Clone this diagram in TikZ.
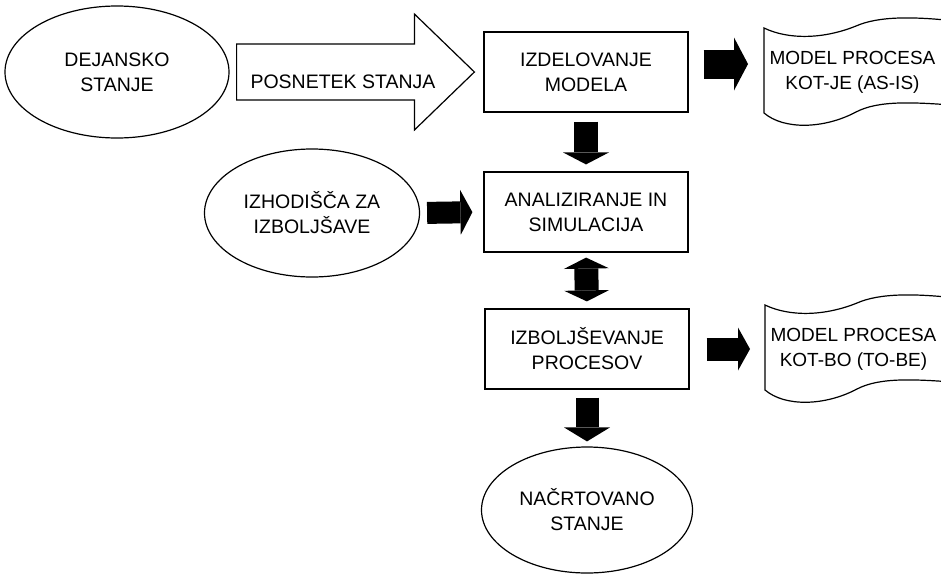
\documentclass[tikz,border=0pt]{standalone}
\usepackage{fontspec}
\setmainfont{Liberation Sans}
\usetikzlibrary{shapes.geometric,arrows.meta,calc}
\newcommand{\tape}[1]{%
\begin{scope}[shift={(#1.west)}]
\draw (0,-44) .. controls (25,-32) and (60,-33) .. (92,-46) .. controls (115,-56) and (150,-56) .. (200,-50)
  -- (200,34) .. controls (150,30) and (115,28) .. (92,40) .. controls (60,57) and (20,58) .. (0,41) -- cycle;
\end{scope}}
\begin{document}
\begin{tikzpicture}[x=1pt,y=-1pt,line width=1.2pt,font=\fontsize{19.5}{25}\selectfont,
  oval/.style={draw,ellipse,align=center,inner sep=2pt},
  box/.style={draw,rectangle,align=center,minimum width=204pt,minimum height=80pt},
  doc/.style={anchor=west,align=center,inner xsep=5pt},
  blk/.style n args={3}{line width=#1,-{Triangle[width=#2,length=#3,line width=0pt]}},
  dblk/.style n args={3}{line width=#1,{Triangle[width=#2,length=#3,line width=0pt]}-{Triangle[width=#2,length=#3,line width=0pt]}}]
\useasboundingbox (0,0) rectangle (941,574);
\node[oval,minimum width=224pt,minimum height=132pt] (dej) at (117,72) {DEJANSKO\\STANJE};
\node[box] (mod) at (586,72) {IZDELOVANJE\\MODELA};
\node[box] (ana) at (586,212) {ANALIZIRANJE IN\\SIMULACIJA};
\node[box] (izb) at (587,349) {IZBOLJŠEVANJE\\PROCESOV};
\node[oval,minimum width=215pt,minimum height=128pt] (izh) at (312,213) {IZHODIŠČA ZA\\IZBOLJŠAVE};
\node[oval,minimum width=211pt,minimum height=126pt] (nac) at (587,510) {NAČRTOVANO\\STANJE};
\node[doc,font=\fontsize{19}{25}\selectfont] (asis) at (764,72) {MODEL PROCESA\\KOT-JE (AS-IS)};
\node[doc,font=\fontsize{19}{25}\selectfont] (tobe) at (765,349) {MODEL PROCESA\\KOT-BO (TO-BE)};
\tape{asis}
\tape{tobe}
\draw ($(dej.east)+(7,-28)$) -- ($(mod.west)+(-69,-28)$) -- ($(mod.west)+(-69,-58)$) -- ($(mod.west)+(-9,0)$)
  -- ($(mod.west)+(-69,58)$) -- ($(mod.west)+(-69,28)$) -- ($(dej.east)+(7,28)$) -- cycle;
\node[anchor=base west] (posn) at ($(dej.east)+(17,16)$) {POSNETEK STANJA};
\draw[blk={29pt}{53pt}{14pt},shorten <=15pt,shorten >=16pt] ($(mod.east)+(0,-8)$) -- ($(asis.west)+(0,-8)$);
\draw[blk={24pt}{46pt}{12pt},shorten <=9pt,shorten >=7pt] (mod) -- (ana);
\draw[blk={22pt}{45pt}{12pt},shorten <=7pt,shorten >=11pt] (izh.east) -- (ana.west);
\draw[dblk={24pt}{45pt}{11pt},shorten <=5pt,shorten >=7pt] (ana.south) -- (izb.north);
\draw[blk={23pt}{43pt}{12pt},shorten <=17pt,shorten >=15pt] (izb.east) -- (tobe.west);
\draw[blk={23pt}{46pt}{14pt},shorten <=8pt,shorten >=5pt] (izb.south) -- (nac.north);
\end{tikzpicture}
\end{document}
